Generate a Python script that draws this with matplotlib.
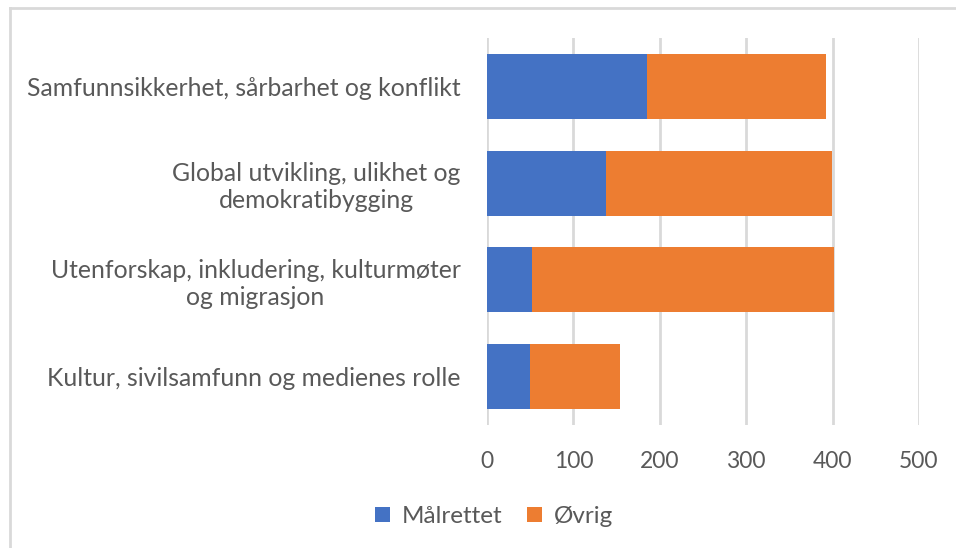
import matplotlib
matplotlib.use('Agg')
import matplotlib.pyplot as plt
from matplotlib.lines import Line2D

# categories (top to bottom) and stacked values
categories = [
    'Samfunnsikkerhet, sårbarhet og konflikt',
    'Global utvikling, ulikhet og\ndemokratibygging',
    'Utenforskap, inkludering, kulturmøter\nog migrasjon',
    'Kultur, sivilsamfunn og medienes rolle',
]
malrettet = [185, 138, 52, 50]
ovrig = [207, 261, 350, 104]
x_ticks = [0, 100, 200, 300, 400, 500]

blue = '#4472c4'
orange = '#ed7d31'
text_col = '#595959'
grid_col = '#d9d9d9'

plt.rcParams['font.family'] = ['Lato', 'DejaVu Sans']

fig = plt.figure(figsize=(9.56, 5.48), dpi=100)
ax = fig.add_axes([0.5094, 0.2245, 0.4519, 0.7062])

y = list(range(len(categories)))[::-1]
ax.barh(y, malrettet, height=0.67, color=blue, label='Målrettet', zorder=3)
ax.barh(y, ovrig, left=malrettet, height=0.67, color=orange, label='Øvrig', zorder=3)

ax.set_xlim(0, 500)
ax.set_ylim(-0.5, len(categories) - 0.5)
ax.set_xticks(x_ticks)
ax.set_yticks(y)
ax.set_yticklabels(categories, multialignment='center')
ax.grid(axis='x', color=grid_col, linewidth=2, zorder=0)
for s in ax.spines.values():
    s.set_visible(False)
ax.tick_params(axis='y', length=0, colors=text_col, labelsize=17.8, pad=19)
ax.tick_params(axis='x', length=0, colors=text_col, labelsize=16.5, pad=19)

fig.legend(loc='center', bbox_to_anchor=(0.517, 0.057), ncol=2, frameon=False,
           fontsize=17.5, labelcolor=text_col, handlelength=0.6, handleheight=0.6,
           handletextpad=0.5, columnspacing=1.0)

# chart frame (only top and left edge visible)
fig.add_artist(Line2D([10 / 956, 10 / 956], [0, 1 - 8 / 548], transform=fig.transFigure,
                      color=grid_col, linewidth=2))
fig.add_artist(Line2D([10 / 956, 1], [1 - 8 / 548, 1 - 8 / 548], transform=fig.transFigure,
                      color=grid_col, linewidth=2))

fig.savefig('out.png', dpi=100, facecolor='white')
